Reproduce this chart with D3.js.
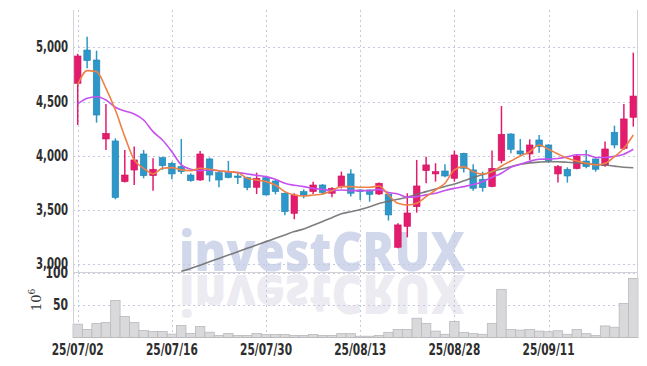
<!DOCTYPE html>
<html><head><meta charset="utf-8">
<script src="https://cdn.jsdelivr.net/npm/d3@7"></script>
<style>html,body{margin:0;padding:0;background:#fff;}svg{display:block;}</style>
</head><body><div id="chart"></div>
<script>
const dates = ["25/07/02","25/07/03","25/07/04","25/07/07","25/07/08","25/07/09","25/07/10","25/07/11","25/07/14","25/07/15",
"25/07/16","25/07/17","25/07/18","25/07/21","25/07/22","25/07/23","25/07/24","25/07/25","25/07/28","25/07/29",
"25/07/30","25/07/31","25/08/01","25/08/04","25/08/05","25/08/06","25/08/07","25/08/08","25/08/11","25/08/12",
"25/08/13","25/08/14","25/08/18","25/08/19","25/08/20","25/08/21","25/08/22","25/08/25","25/08/26","25/08/27",
"25/08/28","25/08/29","25/09/01","25/09/02","25/09/03","25/09/04","25/09/05","25/09/08","25/09/09","25/09/10",
"25/09/11","25/09/12","25/09/15","25/09/16","25/09/17","25/09/18","25/09/19","25/09/22","25/09/23","25/09/24"];
const open  = [4668,4975,4883,4155,4137,3762,3869,4017,3817,3983,3931,3900,3823,3777,3971,3845,3854,3814,3802,3710,
               3799,3768,3655,3470,3670,3670,3731,3655,3716,3833,3685,3685,3648,3645,3157,3350,3531,3863,3833,3860,
               3793,4023,3870,3784,3716,3956,4201,4045,4017,4146,4100,3833,3876,3882,3952,3971,3909,4217,4069,4355];
const high  = [4940,5098,4969,4478,4161,4054,4085,4054,3977,3992,3946,4155,3839,4045,3983,3870,3953,3854,3808,3845,
               3808,3777,3661,3655,3691,3762,3740,3710,3854,3876,3691,3691,3753,3655,3378,3655,3962,3992,3931,3922,
               4048,4029,3922,3854,4048,4459,4207,4155,4152,4192,4106,3916,3894,4008,4054,3977,4131,4278,4478,4951];
const low   = [4284,4806,4306,4054,3599,3753,3731,3793,3679,3870,3783,3833,3762,3771,3762,3710,3793,3740,3682,3648,
               3636,3645,3452,3415,3608,3648,3639,3618,3700,3624,3593,3578,3639,3403,3148,3249,3476,3747,3762,3802,
               3762,3845,3679,3670,3710,3931,4023,3999,3962,4029,3937,3753,3753,3876,3885,3854,3900,4069,4054,4269];
const close = [4920,4877,4376,4207,3615,3823,3962,3817,3876,3909,3833,3854,3771,4017,3823,3777,3799,3802,3707,3793,
               3639,3670,3486,3639,3639,3731,3661,3700,3814,3655,3670,3645,3747,3455,3363,3473,3722,3916,3854,3814,
               4008,3885,3701,3707,3885,4198,4060,4017,4100,4085,3956,3900,3814,3998,3900,3876,4063,4100,4340,4551];
const volume = [20.8,12.5,21.9,23.4,57.8,32.8,23.4,10.9,9.4,9.4,5.2,18.8,6.3,17.2,8.3,3.1,6.3,3.1,3.1,6.3,
                4.7,4.7,4.7,3.1,3.1,4.7,3,3,6,6,2,2,3,8,12.5,12.5,30,22,10,5,
                25,8,6,5,22,75,12.5,11.5,12.5,10,9,10.5,5,12.5,6,3,18,16,53,92];
const ma5 = [4655,4785,4776,4622,4422,4177,3962,3885,3833,3885,3891,3870,3863,3885,3876,3863,3854,3845,3793,3777,
             3762,3731,3670,3639,3630,3639,3648,3679,3716,3716,3710,3710,3722,3639,3562,3547,3562,3624,3685,3747,
             3870,3900,3854,3833,3854,3906,3952,3999,4038,4100,4060,4017,3977,3952,3931,3916,3931,3992,4069,4192];
const ma20 = [4478,4530,4545,4515,4447,4413,4386,4330,4223,4146,4038,3916,3876,3863,3870,3863,3851,3845,3833,3820,
              3808,3784,3747,3728,3716,3700,3691,3679,3685,3679,3679,3679,3691,3661,3648,3618,3624,3640,3655,3680,
              3700,3716,3735,3762,3802,3839,3894,3922,3950,3968,3970,3975,3990,4010,4010,3985,3985,3995,4015,4060];
const ma60 = [null,null,null,null,null,null,null,null,null,null,null,2935,2961,2992,3023,3054,3085,3116,3147,3178,
              3209,3240,3271,3302,3325,3360,3395,3430,3465,3485,3505,3530,3560,3580,3600,3618,3645,3670,3695,3718,
              3740,3770,3800,3828,3854,3878,3900,3922,3935,3942,3946,3945,3940,3935,3928,3920,3915,3905,3895,3890];
const priceTicks = [3000,3500,4000,4500,5000];
const volumeTicks = [50,100];
const dateTicks = ["25/07/02","25/07/16","25/07/30","25/08/13","25/08/28","25/09/11"];

const W=647,H=366;
const L=73,R=638,PT=10,PB=272,VB=337.5;
const svg=d3.select("#chart").append("svg").attr("width",W).attr("height",H);
svg.append("rect").attr("width",W).attr("height",H).attr("fill","#fff");

const x=d3.scaleBand().domain(dates).range([L,R]).padding(0);
const bw=x.bandwidth();
const cx=d=>x(d)+bw/2;
const y=d3.scaleLinear().domain([2929,5344]).range([PB,PT]);
const yv=d3.scaleLinear().domain([0,102]).range([VB,PB]);

const defs=svg.append("defs");
defs.append("clipPath").attr("id","pclip").append("rect").attr("x",L).attr("y",PT).attr("width",R-L).attr("height",PB-PT);

// watermark
const wm=svg.append("g");
wm.append("text").attr("x",179).attr("y",271).attr("textLength",286).attr("lengthAdjust","spacingAndGlyphs")
  .attr("font-family","'Open Sans',sans-serif").attr("font-weight",800).attr("font-size",54)
  .attr("fill","#d2d8ec").text("investCRUX");
wm.append("text").attr("transform","translate(0,546) scale(1,-1)").attr("x",179).attr("y",271).attr("textLength",286).attr("lengthAdjust","spacingAndGlyphs")
  .attr("font-family","'Open Sans',sans-serif").attr("font-weight",800).attr("font-size",54)
  .attr("fill","#ebebf1").text("investCRUX");
svg.append("rect").attr("x",0).attr("y",VB+0.5).attr("width",W).attr("height",H-VB).attr("fill","#fff");

// grid
const grid=svg.append("g").attr("stroke","#c5c9de").attr("stroke-dasharray","2,3").attr("stroke-width",1);
grid.selectAll(".hp").data(priceTicks).join("line").attr("x1",L).attr("x2",R).attr("y1",d=>Math.round(y(d))+0.5).attr("y2",d=>Math.round(y(d))+0.5);
grid.selectAll(".hv").data(volumeTicks).join("line").attr("x1",L).attr("x2",R).attr("y1",d=>Math.round(yv(d))+0.5).attr("y2",d=>Math.round(yv(d))+0.5);
grid.selectAll(".vv").data(dateTicks).join("line").attr("x1",d=>Math.round(cx(d))+0.5).attr("x2",d=>Math.round(cx(d))+0.5).attr("y1",PT).attr("y2",VB);

// volume bars
const idx=d3.range(dates.length);
svg.append("g").selectAll("rect").data(idx).join("rect")
  .attr("x",i=>x(dates[i])).attr("width",bw).attr("y",i=>yv(volume[i])).attr("height",i=>VB-yv(volume[i]))
  .attr("fill","#d9d9dc").attr("stroke","#b9b9be").attr("stroke-width",0.8);

// frame
const fr=svg.append("g").attr("stroke","#d2d2d8").attr("stroke-width",1).attr("fill","none");
fr.append("line").attr("x1",L+0.5).attr("x2",L+0.5).attr("y1",PT).attr("y2",VB);
fr.append("line").attr("x1",R-0.5).attr("x2",R-0.5).attr("y1",PT).attr("y2",VB);
fr.append("line").attr("x1",L).attr("x2",R).attr("y1",PB+0.5).attr("y2",PB+0.5);
fr.append("line").attr("x1",L).attr("x2",R).attr("y1",VB).attr("y2",VB).attr("stroke","#bbb");

// candles
const up="#e31c6e",dn="#2c97c8";
const cg=svg.append("g").attr("clip-path","url(#pclip)");
const cw=bw*0.7;
cg.selectAll("line.w").data(idx).join("line")
  .attr("x1",i=>cx(dates[i])).attr("x2",i=>cx(dates[i])).attr("y1",i=>y(high[i])).attr("y2",i=>y(low[i]))
  .attr("stroke",i=>close[i]>=open[i]?up:dn).attr("stroke-width",1.5);
cg.selectAll("rect.b").data(idx).join("rect")
  .attr("x",i=>cx(dates[i])-cw/2).attr("width",cw)
  .attr("y",i=>y(Math.max(open[i],close[i]))).attr("height",i=>Math.max(1.5,Math.abs(y(open[i])-y(close[i]))))
  .attr("fill",i=>close[i]>=open[i]?up:dn).attr("stroke",i=>close[i]>=open[i]?"#d0145e":"#2585b5").attr("stroke-width",0.6);

// MA lines
const line=arr=>d3.line().defined(i=>arr[i]!=null).x(i=>cx(dates[i])).y(i=>y(arr[i])).curve(d3.curveMonotoneX)(idx);
cg.append("path").attr("d",line(ma60)).attr("fill","none").attr("stroke","#707070").attr("stroke-width",1.6).attr("opacity",0.9);
cg.append("path").attr("d",line(ma20)).attr("fill","none").attr("stroke","#c651ef").attr("stroke-width",1.6);
cg.append("path").attr("d",line(ma5)).attr("fill","none").attr("stroke","#ee8146").attr("stroke-width",1.6);

// labels (condensed)
const fnt="'Liberation Sans Narrow','DejaVu Sans Condensed',sans-serif";
const lab=svg.append("g").attr("font-family",fnt).attr("font-size",15).attr("font-weight","bold").attr("fill","#2e2e2e");
const pl=lab.selectAll("text.p").data(priceTicks).join("text").attr("x",68).attr("y",d=>y(d)+5).attr("text-anchor","end").text(d=>d3.format(",")(d));
const vl=lab.selectAll("text.v").data(volumeTicks).join("text").attr("x",68).attr("y",d=>yv(d)+5).attr("text-anchor","end").text(d=>d);
const dl=lab.selectAll("text.d").data(dateTicks).join("text").attr("x",d=>cx(d)).attr("y",355).attr("text-anchor","middle").text(d=>d);
function condense(sel,target){
  sel.each(function(){
    const w=this.getComputedTextLength();
    if(w>target){d3.select(this).attr("textLength",target).attr("lengthAdjust","spacingAndGlyphs");}
  });
}
condense(pl,32); condense(dl,52);
vl.each(function(d){const w=this.getComputedTextLength();d3.select(this).attr("textLength",w*0.8).attr("lengthAdjust","spacingAndGlyphs");});
const ex=svg.append("text").attr("transform","translate(41,311) rotate(-90)").attr("font-family","'DejaVu Serif',serif").attr("font-size",13).attr("fill","#333");
ex.append("tspan").text("10");
ex.append("tspan").attr("dy",-6).attr("font-size",9).text("6");
</script></body></html>
